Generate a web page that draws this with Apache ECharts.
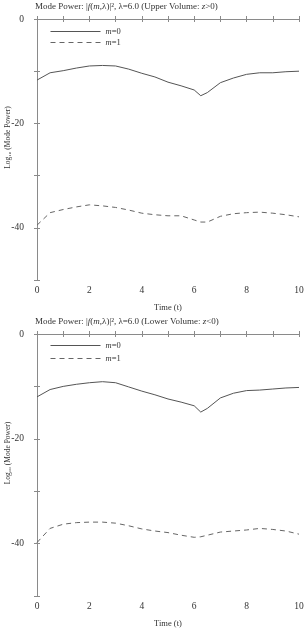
<!DOCTYPE html>
<html><head><meta charset="utf-8">
<script src="https://cdn.jsdelivr.net/npm/echarts@6/dist/echarts.min.js"></script>
<style>html,body{margin:0;padding:0;background:#fff}#c{width:308px;height:630px}</style>
</head><body><div id="c"></div>
<script>
var times = [0,0.5,1,1.5,2,2.5,3,3.5,4,4.5,5,5.5,6,6.25,6.5,7,7.5,8,8.5,9,9.5,10];
var upperM0 = [-11.7,-10.3,-9.9,-9.4,-9.0,-8.9,-9.0,-9.6,-10.4,-11.1,-12.1,-12.8,-13.6,-14.7,-14.1,-12.2,-11.3,-10.6,-10.3,-10.3,-10.1,-10.0];
var upperM1 = [-39.5,-37.1,-36.5,-36.0,-35.6,-35.8,-36.1,-36.6,-37.2,-37.5,-37.7,-37.7,-38.5,-38.9,-38.9,-37.8,-37.3,-37.1,-37.0,-37.2,-37.5,-37.9];
var lowerM0 = [-12.0,-10.6,-10.0,-9.6,-9.3,-9.1,-9.3,-10.1,-10.9,-11.6,-12.4,-13.0,-13.7,-14.9,-14.2,-12.2,-11.3,-10.8,-10.7,-10.5,-10.3,-10.2];
var lowerM1 = [-39.8,-37.1,-36.3,-36.0,-35.9,-35.9,-36.1,-36.6,-37.2,-37.6,-37.9,-38.4,-38.8,-38.7,-38.4,-37.8,-37.6,-37.4,-37.1,-37.3,-37.6,-38.2];
var titles = ['Upper Volume: ', 'Lower Volume: '];
var zconds = ['>0', '<0'];
var xTickLabels = [0,2,4,6,8,10];
var yTickLabels = [0,-20,-40];

var FONT = 'Liberation Serif';
var AX = '#8a8a8a';
var TXT = '#333';
function pair(t, v){ return t.map(function(x,i){return [x, v[i]];}); }

var grids = [
  {left:37, top:19, width:262, height:261, containLabel:false, outerBoundsMode:'none'},
  {left:37, top:334, width:262, height:262, containLabel:false, outerBoundsMode:'none'}
];
var xAxes = [], yAxes = [], series = [], titleArr = [], legends = [];
function rich(sz){ return {i:{fontStyle:'italic', fontFamily:FONT, fontSize:sz, color:TXT}}; }
grids.forEach(function(g, k){
  xAxes.push({gridIndex:k, type:'value', min:0, max:10, interval:1, position:'bottom',
    name:'Time (t)', nameLocation:'middle', nameGap:23, nameMoveOverlap:false,
    nameTextStyle:{fontFamily:FONT, fontSize:8.5, color:TXT},
    axisLine:{lineStyle:{color:AX}}, axisTick:{inside:true, length:3, lineStyle:{color:AX}},
    splitLine:{show:false},
    axisLabel:{fontFamily:FONT, fontSize:9.5, color:TXT, margin:5,
      formatter:function(v){return xTickLabels.indexOf(v)>=0 ? String(v) : '';}}});
  xAxes.push({gridIndex:k, type:'value', min:0, max:10, interval:1, position:'top',
    axisLine:{lineStyle:{color:AX}}, axisTick:{inside:true, length:3, lineStyle:{color:AX}},
    splitLine:{show:false}, axisLabel:{show:false}});
  yAxes.push({gridIndex:k, type:'value', min:-50, max:0, interval:10, position:'left',
    name:'Log\u2081\u2080 (Mode Power)', nameLocation:'middle', nameGap:25, nameMoveOverlap:false,
    nameTextStyle:{fontFamily:FONT, fontSize:7.5, color:TXT, padding:[0,0,0,24]},
    axisLine:{show:true, lineStyle:{color:AX}}, axisTick:{show:true, inside:true, length:3, lineStyle:{color:AX}},
    splitLine:{show:false},
    axisLabel:{fontFamily:FONT, fontSize:9.5, color:TXT, margin:13,
      formatter:function(v){return yTickLabels.indexOf(v)>=0 ? String(v) : '';}}});
  yAxes.push({gridIndex:k, type:'value', min:-50, max:0, interval:10, position:'right',
    axisLine:{show:true, lineStyle:{color:AX}}, axisTick:{show:true, inside:true, length:3, lineStyle:{color:AX}},
    splitLine:{show:false}, axisLabel:{show:false}});
  titleArr.push({left:35, top:g.top-17, padding:[0,0,0,0],
    text:'Mode Power: |{i|f}({i|m},\u03bb)|\u00b2, \u03bb=6.0 (' + titles[k] + '{i|z}' + zconds[k] + ')',
    textStyle:{fontFamily:FONT, fontSize:9, fontWeight:'normal', color:TXT, rich:rich(9)}});
  legends.push({orient:'vertical', left:50, top:g.top + (k===0?8:7), padding:0, itemWidth:50, itemHeight:10,
    itemGap:k===0?2:4, data:['m=0','m=1'], itemStyle:{opacity:0}, lineStyle:{width:1},
    textStyle:{fontFamily:FONT, fontSize:8.5, color:TXT, rich:rich(8.5)},
    formatter:function(n){return '{i|m}' + n.slice(1);}});
});
var sets = [[upperM0, upperM1],[lowerM0, lowerM1]];
sets.forEach(function(s, k){
  series.push({name:'m=0', type:'line', xAxisIndex:2*k, yAxisIndex:2*k, symbol:'none', showSymbol:false,
    data:pair(times, s[0]), lineStyle:{color:'#555', width:1, type:'solid'}, itemStyle:{color:'#555'}});
  series.push({name:'m=1', type:'line', xAxisIndex:2*k, yAxisIndex:2*k, symbol:'none', showSymbol:false,
    data:pair(times, s[1]), lineStyle:{color:'#666', width:1, type:[5,4]}, itemStyle:{color:'#666'}});
});
var chart = echarts.init(document.getElementById('c'));
chart.setOption({animation:false, backgroundColor:'#fff', title:titleArr, legend:legends,
  grid:grids, xAxis:xAxes, yAxis:yAxes, series:series});
</script></body></html>
